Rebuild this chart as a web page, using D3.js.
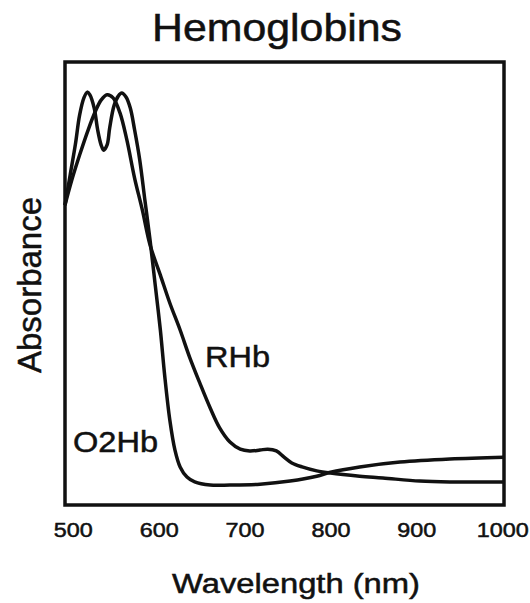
<!DOCTYPE html>
<html>
<head>
<meta charset="utf-8">
<script src="https://cdn.jsdelivr.net/npm/d3@7"></script>
<style>
  html, body { margin: 0; padding: 0; background: #fff; }
  svg { display: block; }
  text { font-family: "Liberation Sans", Arial, Helvetica, sans-serif; fill: #111; stroke: #111; stroke-width: 0.5px; }
</style>
</head>
<body>
<svg id="chart" width="530" height="603"></svg>
<script>
// Absorption spectra of oxygenated (O2Hb) and reduced (RHb) hemoglobin, arbitrary units
const o2hbWavelength = [491, 497, 503, 508, 513, 517, 520, 525, 529, 533, 536, 540, 543, 548, 553, 557, 562, 567, 572, 578, 584, 590, 596, 602, 607, 613, 619, 625, 633, 642, 660, 683, 718, 753, 784, 800, 834, 881, 939, 1002];
const o2hbAbsorbance = [0.677, 0.745, 0.813, 0.880, 0.919, 0.932, 0.926, 0.896, 0.847, 0.813, 0.801, 0.813, 0.851, 0.901, 0.923, 0.930, 0.921, 0.896, 0.847, 0.779, 0.688, 0.598, 0.497, 0.395, 0.293, 0.192, 0.124, 0.086, 0.063, 0.052, 0.045, 0.045, 0.047, 0.054, 0.065, 0.074, 0.086, 0.097, 0.104, 0.108];

const rhbWavelength = [491, 499, 508, 518, 526, 533, 540, 547, 555, 563, 572, 581, 590, 602, 613, 625, 636, 648, 660, 671, 683, 695, 706, 718, 727, 737, 746, 755, 767, 784, 800, 834, 861, 904, 939, 1002];
const rhbAbsorbance = [0.677, 0.734, 0.790, 0.847, 0.887, 0.914, 0.926, 0.919, 0.885, 0.824, 0.738, 0.666, 0.587, 0.519, 0.456, 0.395, 0.334, 0.275, 0.219, 0.174, 0.142, 0.126, 0.122, 0.124, 0.126, 0.122, 0.108, 0.095, 0.086, 0.077, 0.072, 0.065, 0.061, 0.054, 0.052, 0.052];

const xTicks = [500, 600, 700, 800, 900, 1000];
const seriesLabels = ["O2Hb", "RHb"];
const chartTitle = "Hemoglobins";
const xTitle = "Wavelength (nm)";
const yTitle = "Absorbance";

const svg = d3.select("#chart");
const plot = { left: 65, right: 504, top: 62, bottom: 505 };

const x = d3.scaleLinear().domain([491, 1002]).range([plot.left, plot.right]);
const y = d3.scaleLinear().domain([0, 1]).range([plot.bottom, plot.top]);

// frame
svg.append("rect")
  .attr("x", plot.left).attr("y", plot.top)
  .attr("width", plot.right - plot.left).attr("height", plot.bottom - plot.top)
  .attr("fill", "none").attr("stroke", "#111").attr("stroke-width", 3.5);

// spectra
const line = d3.line()
  .x(d => x(d[0])).y(d => y(d[1]))
  .curve(d3.curveCatmullRom.alpha(0.5));

const series = [
  { name: seriesLabels[0], pts: o2hbWavelength.map((w, i) => [w, o2hbAbsorbance[i]]) },
  { name: seriesLabels[1], pts: rhbWavelength.map((w, i) => [w, rhbAbsorbance[i]]) }
];

svg.append("g").selectAll("path").data(series).join("path")
  .attr("d", d => line(d.pts))
  .attr("fill", "none").attr("stroke", "#111")
  .attr("stroke-width", 3.5).attr("stroke-linejoin", "round");

// x axis labels only
const xAxis = d3.axisBottom(x).tickValues(xTicks).tickFormat(d3.format("d"))
  .tickSize(0).tickPadding(18);
const gx = svg.append("g").attr("transform", `translate(0,${plot.bottom})`).call(xAxis);
gx.select(".domain").remove();
gx.selectAll("text")
  .attr("font-size", 20)
  .attr("font-family", "Liberation Sans, Arial, sans-serif")
  .attr("fill", "#111")
  .attr("textLength", d => String(d).length * 13)
  .attr("lengthAdjust", "spacingAndGlyphs");

// titles
svg.append("text")
  .attr("x", 277).attr("y", 41).attr("text-anchor", "middle")
  .attr("font-size", 38).attr("textLength", 250).attr("lengthAdjust", "spacingAndGlyphs")
  .text(chartTitle);

svg.append("text")
  .attr("x", 296).attr("y", 593).attr("text-anchor", "middle")
  .attr("font-size", 27).attr("textLength", 248).attr("lengthAdjust", "spacingAndGlyphs")
  .text(xTitle);

svg.append("text")
  .attr("transform", "translate(41,285) rotate(-90)")
  .attr("text-anchor", "middle")
  .attr("font-size", 33).attr("textLength", 176).attr("lengthAdjust", "spacingAndGlyphs")
  .text(yTitle);

// series labels
svg.append("text")
  .attr("x", 205).attr("y", 367)
  .attr("font-size", 30).attr("textLength", 65).attr("lengthAdjust", "spacingAndGlyphs")
  .text(seriesLabels[1]);

svg.append("text")
  .attr("x", 73).attr("y", 452)
  .attr("font-size", 29).attr("textLength", 85).attr("lengthAdjust", "spacingAndGlyphs")
  .text(seriesLabels[0]);
</script>
</body>
</html>
